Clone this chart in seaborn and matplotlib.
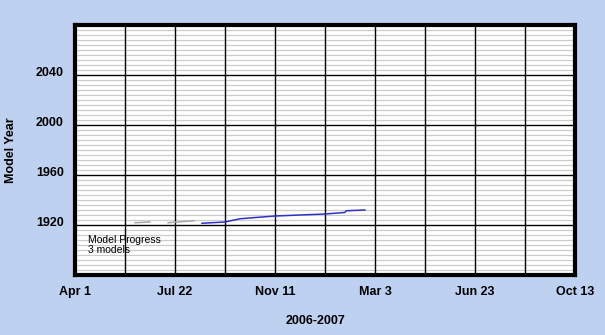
import numpy as np
import pandas as pd
import matplotlib
matplotlib.use("Agg")
import matplotlib.pyplot as plt
from matplotlib.transforms import ScaledTranslation
import seaborn as sns

# ---- data ----
model_a_dates = ["2006-06-07", "2006-06-24"]
model_a_years = [1921.8, 1922.4]
model_b_dates = ["2006-07-14", "2006-08-13"]
model_b_years = [1921.8, 1923.4]
model_c_dates = ["2006-08-21", "2006-09-16", "2006-10-03", "2006-11-11",
                 "2007-01-06", "2007-01-28", "2007-01-30", "2007-02-20"]
model_c_years = [1921.4, 1922.4, 1925.0, 1927.2, 1928.8, 1930.0, 1931.4, 1932.0]

x_tick_labels = ["Apr 1", "Jul 22", "Nov 11", "Mar 3", "Jun 23", "Oct 13"]
y_tick_values = [1920, 1960, 2000, 2040]
x_start, x_end = "2006-04-01", "2007-10-13"
y_min, y_max = 1880, 2080

frames = []
for name, d, y in [("a", model_a_dates, model_a_years),
                   ("b", model_b_dates, model_b_years),
                   ("c", model_c_dates, model_c_years)]:
    frames.append(pd.DataFrame({"model": name, "date": pd.to_datetime(d), "year": y}))
df = pd.concat(frames, ignore_index=True)

bg = "#BFD1F1"
sns.set_theme(style="white")
plt.rcParams["font.family"] = ["Liberation Sans", "DejaVu Sans"]
plt.rcParams["text.color"] = "black"
plt.rcParams["axes.labelcolor"] = "black"

fig = plt.figure(figsize=(6.05, 3.35), dpi=100, facecolor=bg)
ax = fig.add_axes([75/605, 1-275/335, 500/605, 250/335])
ax.set_facecolor("white")

palette = {"a": "#A8A8A8", "b": "#A8A8A8", "c": "#3030C8"}
sns.lineplot(data=df, x="date", y="year", hue="model", palette=palette,
             units="model", estimator=None, linewidth=1.1, legend=False, ax=ax,
             zorder=5)

start = pd.Timestamp(x_start)
end = pd.Timestamp(x_end)
ax.set_xlim(start, end)
ax.set_ylim(y_min, y_max)

xt = pd.date_range(start, end, freq="56D")
ax.set_xticks(xt)
labels = [x_tick_labels[i // 2] if i % 2 == 0 else "" for i in range(len(xt))]
ax.set_xticklabels(labels)
ax.set_yticks(y_tick_values)
ax.set_yticks(np.arange(y_min, y_max + 1, 4), minor=True)

# minor grid below, major grid drawn on top of it
ax.grid(which="minor", axis="y", color="#CCCCCC", linewidth=0.9)
ax.grid(which="major", visible=False)
ax.set_axisbelow(True)
ax.vlines(xt, y_min, y_max, colors="black", linewidth=1.0, zorder=2)
ax.hlines(y_tick_values, start, end, colors="black", linewidth=1.0, zorder=2)

ax.tick_params(axis="both", which="both", length=0)
ax.tick_params(axis="x", pad=8, labelsize=9, colors="black")
ax.tick_params(axis="y", pad=8, labelsize=9, colors="black")
for lab in ax.get_xticklabels() + ax.get_yticklabels():
    lab.set_fontweight("bold")
for lab in ax.get_yticklabels():
    lab.set_transform(lab.get_transform() + ScaledTranslation(0, 3/100, fig.dpi_scale_trans))

for s in ax.spines.values():
    s.set_visible(True)
    s.set_color("black")
    s.set_linewidth(3.0)
    s.set_zorder(10)

ax.set_xlabel("2006-2007", fontsize=9, fontweight="bold", color="black")
ax.set_ylabel("Model Year", fontsize=9, fontweight="bold", color="black")
ax.yaxis.set_label_coords(-(75-17)/500, 0.5)
ax.xaxis.set_label_coords((315-75)/500, -(315-275)/250)

ax.text(88/605, 1-245/335, "Model Progress\n3 models", transform=fig.transFigure,
        fontsize=7.5, va="center", ha="left", linespacing=1.0, zorder=6,
        color="black")

fig.savefig("out.png", dpi=100, facecolor=bg)
